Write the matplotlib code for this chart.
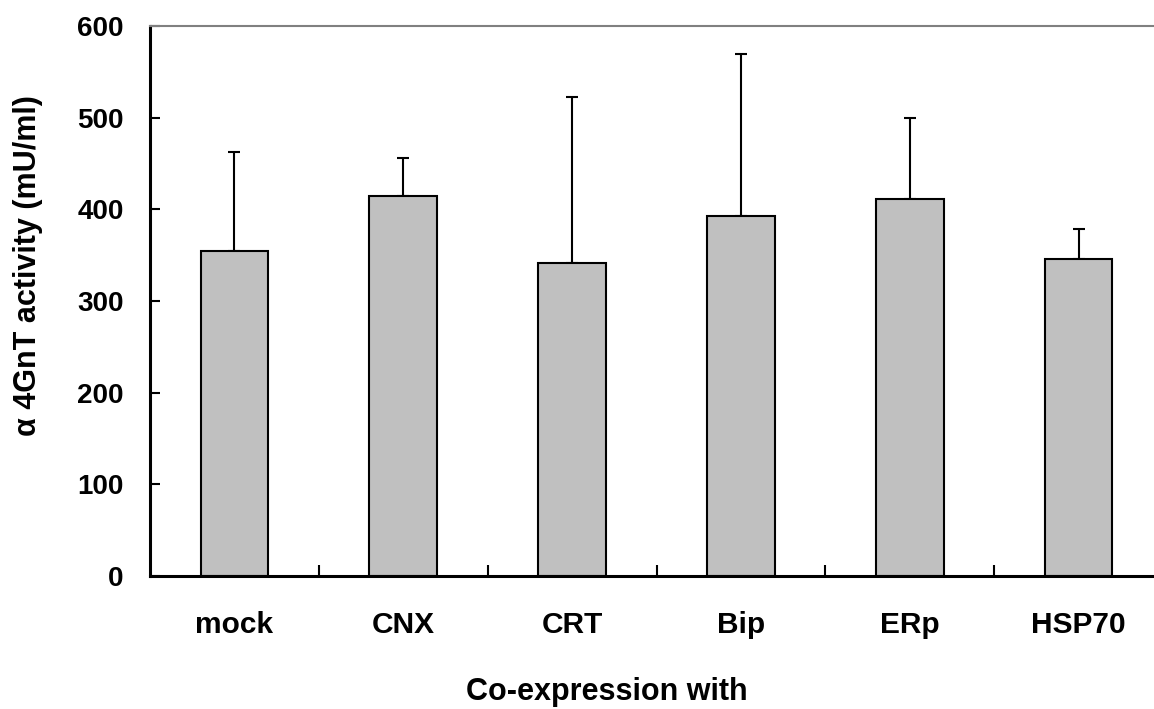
import numpy as np
import matplotlib
matplotlib.use("Agg")
import matplotlib.pyplot as plt
from matplotlib.ticker import FixedLocator

categories = ["mock", "CNX", "CRT", "Bip", "ERp", "HSP70"]
activity = [355, 415, 341, 393, 411, 346]
error_top = [462, 456, 522, 569, 500, 379]

plt.rcParams["font.family"] = ["Liberation Sans", "DejaVu Sans"]
plt.rcParams["font.weight"] = "bold"

fig = plt.figure(figsize=(11.54, 7.09), dpi=100)
ax = fig.add_axes([150 / 1154, 1 - 576 / 709, 1013 / 1154, 550 / 709])

x = np.arange(len(categories))
upper = np.array(error_top) - np.array(activity)
ax.errorbar(x, activity, yerr=[np.zeros(len(x)), upper], fmt="none",
            ecolor="black", elinewidth=1.5, capsize=4.5, capthick=1.5, zorder=1)
ax.bar(x, activity, width=0.4, color="#c0c0c0", edgecolor="black",
       linewidth=1.5, zorder=2)

ax.set_xlim(-0.5, len(categories) - 0.5)
ax.set_ylim(0, 600)
ax.set_yticks(range(0, 601, 100))
ax.set_xticks(x)
ax.set_xticklabels(categories, fontsize=21.5, fontweight="bold")
ax.xaxis.set_minor_locator(FixedLocator(x[:-1] + 0.5))
ax.tick_params(axis="x", which="major", length=0, pad=25)
ax.tick_params(axis="x", which="minor", direction="in", length=8, width=1.5)
ax.tick_params(axis="y", direction="in", length=7, width=1.5, pad=19, labelsize=20)
for lab in ax.get_yticklabels():
    lab.set_fontweight("bold")

ax.spines["left"].set_linewidth(2.2)
ax.spines["bottom"].set_linewidth(2.2)
ax.spines["top"].set_color("#808080")
ax.spines["top"].set_linewidth(1.5)
ax.spines["right"].set_visible(False)

ax.set_ylabel("\u03b1 4GnT activity (mU/ml)", fontsize=22, fontweight="bold")
ax.yaxis.set_label_coords(-0.106, 0.564)
ax.set_xlabel("Co-expression with", fontsize=22, fontweight="bold")
ax.xaxis.set_label_coords(0.451, -0.183)

fig.savefig("out.png", dpi=100)
